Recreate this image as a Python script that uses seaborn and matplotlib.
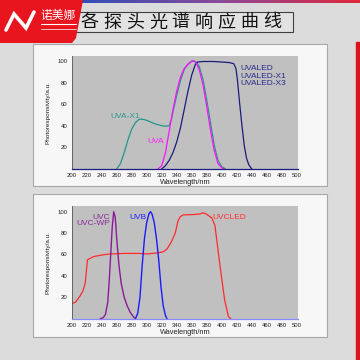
import numpy as np
import matplotlib
matplotlib.use("Agg")
import matplotlib.pyplot as plt
from matplotlib.patches import Rectangle, Polygon
from matplotlib.ticker import MultipleLocator
import seaborn as sns

sns.set_style("white")
plt.rcParams['font.family'] = ['Liberation Sans', 'Noto Sans CJK SC', 'DejaVu Sans']

title_text = "各探头光谱响应曲线"
brand_text = "诺美娜"

# ---- panel 1 curves (UVA family) ----
uva_x1_x = [260, 265, 270, 275, 280, 285, 290, 295, 300, 305, 310, 315, 320, 325, 330,
            333, 336, 340, 345, 350, 355, 360, 363, 366, 370, 375, 380, 385, 390, 395, 400, 405]
uva_x1_y = [0, 5, 15, 27, 37, 43, 46, 46, 45, 43.5, 42, 41, 40, 39.5, 40,
            46, 56, 68, 82, 92, 97, 99.5, 100, 99, 95, 83, 64, 43, 22, 8, 2, 0]

uva_x = [315, 320, 325, 330, 335, 340, 345, 350, 355, 360, 363, 366, 370, 375, 380,
         385, 390, 395, 400, 403]
uva_y = [0, 3, 15, 35, 55, 72, 85, 93, 97, 100, 100, 98, 92, 78, 58, 36, 17, 5, 1, 0]

uvaled_x = [320, 325, 330, 335, 340, 345, 350, 355, 360, 365, 368, 375, 390, 400, 410,
            416, 419, 421, 424, 427, 430, 433, 436, 440]
uvaled_y = [0, 3, 8, 15, 25, 38, 55, 72, 87, 97, 99, 99.5, 99.5, 99, 98.5,
            97.5, 93, 82, 60, 40, 22, 10, 4, 0]

# ---- panel 2 curves (UVC / UVB / UVCLED) ----
uvc_x = [238, 242, 245, 248, 250, 252, 254, 256, 258, 260, 263, 266, 270, 274, 278, 282, 285]
uvc_y = [0, 1, 4, 15, 35, 60, 85, 100, 95, 75, 50, 33, 20, 12, 6, 2, 0]

uvb_x = [285, 288, 291, 294, 297, 300, 303, 305, 307, 310, 313, 316, 319, 322, 325, 327]
uvb_y = [0, 5, 20, 50, 75, 90, 98, 100, 98, 90, 75, 55, 30, 12, 3, 0]

uvcled_x = [200, 205, 211, 215, 218, 221, 229, 240, 251, 270, 290, 300, 315, 322, 327,
            333, 338, 342, 345, 349, 360, 371, 375, 380, 387, 391, 394, 398, 404, 409, 412]
uvcled_y = [14, 15.5, 21, 26, 33, 55, 58, 59.5, 60.5, 61, 61, 60.5, 61.5, 62.5, 65,
            72, 80, 92, 95.5, 97, 97.2, 97.8, 99, 97.5, 94, 87, 70, 48, 17, 2, 0]

x_ticks = list(range(200, 501, 20))
y_ticks = [20, 40, 60, 80, 100]

W = H = 360
fig = plt.figure(figsize=(3.6, 3.6), dpi=100)
fig.patch.set_facecolor('#dcdcdc')

# background drawing layer in pixel coordinates
bg = fig.add_axes([0, 0, 1, 1], zorder=0)
bg.set_xlim(0, W)
bg.set_ylim(H, 0)
bg.axis('off')

# top gradient strip
grad = np.linspace(0, 1, 256).reshape(1, -1)
cmap = matplotlib.colors.LinearSegmentedColormap.from_list('g', ['#2f4fb8', '#8a4a9a', '#e0283c'])
bg.imshow(grad, extent=[78, 360, 3, 0], aspect='auto', cmap=cmap, zorder=1)

# right red bar
bg.add_patch(Rectangle((356, 42), 4, 318, color='#d8151f', zorder=1))

# panels
for top, bottom in [(44, 186), (194, 337)]:
    bg.add_patch(Rectangle((33, top), 294, bottom - top, facecolor='#f7f7f7',
                           edgecolor='#a8a8a8', lw=0.8, zorder=1))

# title box
bg.add_patch(Rectangle((76, 12), 217, 20, facecolor='#e2e2e2', edgecolor='#404040',
                       lw=0.8, zorder=2))
for i, ch in enumerate(title_text):
    bg.text(89.5 + i * 22.8, 22.5, ch, fontsize=13, ha='center', va='center',
            family=['Noto Sans CJK SC'], color='#111111', zorder=3)

# logo
logo = Polygon([(0, 0), (83, 0), (76, 38), (72, 43), (0, 43)], closed=True,
               facecolor='#e8141e', edgecolor='none', zorder=4)
bg.add_patch(logo)
bg.plot([6, 14, 26, 34], [30, 14, 28, 12], color='white', lw=2.6,
        solid_joinstyle='miter', zorder=5)
bg.text(58, 15, brand_text, fontsize=8.5, color='white', ha='center', va='center',
        family=['Noto Sans CJK SC'], zorder=5)
bg.plot([41, 76], [24, 24], color='white', lw=0.8, zorder=5)
bg.plot([41, 76], [28.5, 28.5], color='white', lw=0.5, zorder=5)


def px_axes(left, top, right, bottom):
    return fig.add_axes([left / W, 1 - bottom / H, (right - left) / W, (bottom - top) / H],
                        zorder=2)


def style(ax, ytop, base_color):
    ax.set_facecolor('#c0c0c0')
    ax.set_xlim(200, 501.7)
    ax.set_ylim(0, ytop)
    ax.set_xticks(x_ticks)
    ax.set_yticks(y_ticks)
    ax.xaxis.set_minor_locator(MultipleLocator(10))
    ax.yaxis.set_minor_locator(MultipleLocator(10))
    for s in ['top', 'right']:
        ax.spines[s].set_visible(False)
    ax.spines['left'].set_color('#555555')
    ax.spines['left'].set_linewidth(0.6)
    ax.spines['bottom'].set_color(base_color)
    ax.spines['bottom'].set_linewidth(0.9)
    ax.tick_params(axis='both', which='major', labelsize=4.3, length=2, width=0.5,
                   pad=1.2, colors='#222222', direction='out')
    ax.tick_params(axis='both', which='minor', length=1.2, width=0.4, colors='#444444',
                   direction='out')
    ax.set_xlabel('Wavelength/nm', fontsize=5.3, color='#222222', labelpad=0.5)
    ax.set_ylabel('Photoresponsivity/a.u.', fontsize=4.6, color='#222222', labelpad=5)
    ax.grid(False)


# ---- panel 1 ----
ax1 = px_axes(71.7, 56, 298, 168.9)
sns.lineplot(x=uva_x1_x, y=uva_x1_y, ax=ax1, color='#23968a', lw=0.9)
sns.lineplot(x=uvaled_x, y=uvaled_y, ax=ax1, color='#1c1c7c', lw=0.9)
sns.lineplot(x=uva_x, y=uva_y, ax=ax1, color='#ff10ff', lw=0.9)
style(ax1, 104.6, '#1c1c7c')
ax1.text(251, 48.5, 'UVA-X1', fontsize=6, color='#2a9a90', va='center')
ax1.text(301, 25, 'UVA', fontsize=6, color='#ff20ff', va='center')
for lab, yy in zip(['UVALED', 'UVALED-X1', 'UVALED-X3'], [92.6, 86, 79.3]):
    ax1.text(425, yy, lab, fontsize=6, color='#2a2a8c', va='center')

# ---- panel 2 ----
ax2 = px_axes(71.7, 206, 298, 318.7)
sns.lineplot(x=uvcled_x, y=uvcled_y, ax=ax2, color='#ff2a2a', lw=0.9)
sns.lineplot(x=uvc_x, y=uvc_y, ax=ax2, color='#8a1a96', lw=1.0)
sns.lineplot(x=uvb_x, y=uvb_y, ax=ax2, color='#1a1aff', lw=1.0)
style(ax2, 105.3, '#8a8aff')
ax2.text(251, 95, 'UVC', fontsize=6, color='#8a2a9a', va='center', ha='right')
ax2.text(252, 88.5, 'UVC-WP', fontsize=6, color='#8a2a9a', va='center', ha='right')
ax2.text(277, 95, 'UVB', fontsize=6, color='#2020ff', va='center')
ax2.text(387, 95, 'UVCLED', fontsize=6, color='#ff3030', va='center')

fig.savefig('out.png', dpi=100, facecolor=fig.get_facecolor())
